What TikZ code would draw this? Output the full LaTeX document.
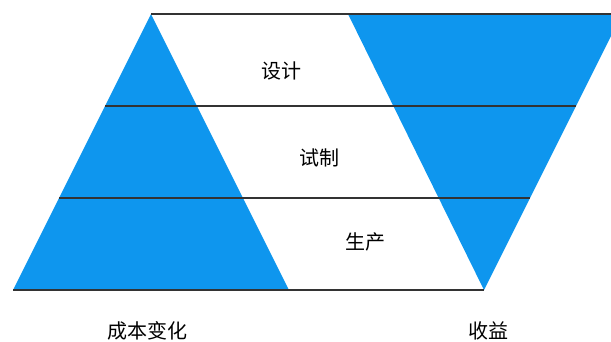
\documentclass[tikz,border=0pt]{standalone}
\usepackage{fontspec}
\newfontfamily\cjk{Noto Sans CJK SC}
\definecolor{stageblue}{RGB}{14,150,238}
\begin{document}
\begin{tikzpicture}
    [x=1pt,y=-1pt,every node/.style={font=\cjk\fontsize{20}{22}\selectfont,inner sep=0pt}]
    \useasboundingbox (0,0) rectangle (611,341);
    % corners of the band lines
    \coordinate (l0) at (151,14);
    \coordinate (l1) at (105,106);
    \coordinate (l2) at (59,198);
    \coordinate (l3) at (13,290);
    \coordinate (r0) at (622,14);
    \coordinate (r1) at (576,106);
    \coordinate (r2) at (530,198);
    \coordinate (r3) at (484,290);
    % triangles
    \fill[stageblue] (l0) -- (l3) -- (289,290) -- cycle;
    \fill[stageblue] (348,14) -- (r0) -- (r3) -- cycle;
    \foreach \from/\to in {l0/r0,l1/r1,l2/r2,l3/r3}
      \draw[line width=2.5pt,black!80] (\from) -- (\to);
    \node (design) at (281,71) {设计};
    \node (trial) at (319,158) {试制};
    \node (produce) at (365,242) {生产};
    \node (cost) at (147,331) {成本变化};
    \node (profit) at (488,331) {收益};
  \end{tikzpicture}
\end{document}
